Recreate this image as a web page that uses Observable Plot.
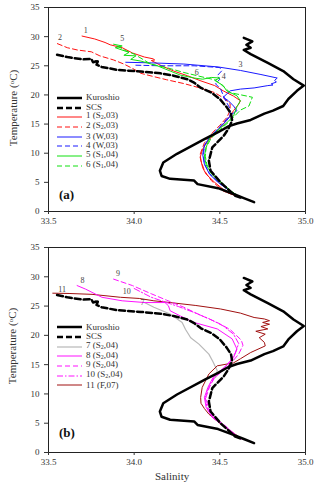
<!DOCTYPE html>
<html>
<head>
<meta charset="utf-8">
<script src="https://cdn.jsdelivr.net/npm/d3@7"></script>
<script src="https://cdn.jsdelivr.net/npm/@observablehq/plot@0.6"></script>
<style>
  html, body { margin: 0; padding: 0; background: #fff; }
  #fig { position: relative; width: 320px; height: 489px; font-family: "Liberation Serif", "DejaVu Serif", serif; color: #333; overflow: hidden; }
  .panel { position: absolute; left: 0; }
  .ytitle { position: absolute; font-size: 11px; white-space: nowrap; transform-origin: center center; }
  .xtitle { position: absolute; font-size: 11px; }
  .tag { position: absolute; font-weight: bold; font-size: 13px; color: #111; }
  .legend { position: absolute; font-size: 9px; line-height: 9.7px; }
  .legend .row { display: flex; align-items: center; height: 9.7px; }
  .legend svg { margin-right: 4px; }
  sub { font-size: 6px; vertical-align: -1px; }
  sup { font-size: 7px; vertical-align: 3px; }
</style>
</head>
<body>
<div id="fig"></div>
<script>
// ---------- data ----------
const xTicks = [33.5, 34.0, 34.5, 35.0];
const yTicks = [0, 5, 10, 15, 20, 25, 30, 35];

const kuroshio = [[34.64,29.8],[34.69,29.2],[34.655,28.6],[34.68,28.1],[34.64,27.7],[34.68,27.0],[34.78,25.5],[34.87,24.1],[34.93,22.7],[34.99,21.6],[34.95,20.7],[34.90,19.3],[34.87,18.1],[34.81,17.3],[34.76,16.8],[34.68,15.7],[34.60,15.1],[34.55,14.6],[34.49,13.6],[34.41,12.4],[34.25,9.9],[34.17,8.4],[34.15,7.0],[34.16,6.1],[34.21,5.6],[34.35,5.3],[34.37,4.7],[34.49,4.0],[34.58,3.0],[34.64,2.3],[34.70,1.6]];
const scs = [[33.55,26.9],[33.61,26.5],[33.70,26.1],[33.75,26.2],[33.76,25.6],[33.79,25.9],[33.78,25.2],[33.81,24.8],[33.90,24.3],[34.04,24.0],[34.155,23.7],[34.23,23.3],[34.31,22.7],[34.35,22.1],[34.39,21.2],[34.45,20.4],[34.50,19.3],[34.54,17.9],[34.565,16.8],[34.572,15.6],[34.55,14.2],[34.523,13.0],[34.456,11.0],[34.436,8.7],[34.446,7.0],[34.504,5.0],[34.59,2.7],[34.62,2.4]];

const st1 = [[33.696,30.1],[33.77,29.6],[33.83,29.0],[33.86,28.6],[33.93,28.1],[33.99,27.2],[34.06,26.5],[34.11,26.2],[34.12,26.0],[34.10,25.9],[34.16,25.0],[34.23,24.1],[34.31,23.3],[34.39,22.4],[34.47,21.6],[34.52,20.7],[34.58,19.8],[34.62,19.0],[34.61,18.4],[34.58,17.3],[34.56,16.4],[34.52,15.0],[34.47,13.3],[34.43,12.1],[34.40,10.7],[34.385,9.3],[34.40,7.5],[34.42,6.4],[34.47,5.0],[34.54,3.3],[34.62,2.4]];
const st2 = [[33.552,28.8],[33.61,28.1],[33.67,27.7],[33.75,27.4],[33.80,26.7],[33.88,26.0],[33.94,25.3],[34.0,24.4],[34.04,23.7],[34.12,23.1],[34.19,22.6],[34.29,21.95],[34.39,21.15],[34.47,20.4],[34.52,19.5],[34.56,18.5],[34.56,17.3],[34.54,16.1],[34.50,14.8],[34.45,13.3],[34.41,11.8],[34.385,9.8],[34.39,8.7],[34.41,7.0],[34.45,5.3],[34.52,3.5],[34.62,2.4]];
const st3 = [[33.951,25.6],[34.10,25.5],[34.29,25.3],[34.49,24.8],[34.62,24.2],[34.74,23.5],[34.835,22.9],[34.82,22.5],[34.83,22.2],[34.80,21.9],[34.81,21.7],[34.78,21.6],[34.70,21.2],[34.62,21.0],[34.56,20.7],[34.52,19.6],[34.55,19.0],[34.58,18.1],[34.60,17.3],[34.57,16.7],[34.54,15.6],[34.49,14.1],[34.44,12.7],[34.41,11.3],[34.40,9.8],[34.41,8.1],[34.44,6.4],[34.49,5.0],[34.56,3.5],[34.62,2.4]];
const st4 = [[34.01,25.1],[34.15,25.0],[34.35,25.0],[34.50,24.7],[34.51,24.1],[34.485,23.3],[34.50,22.7],[34.475,21.9],[34.505,21.0],[34.52,19.9],[34.54,18.7],[34.56,17.6],[34.56,16.6],[34.53,15.5],[34.49,14.2],[34.44,12.8],[34.41,11.3],[34.405,9.8],[34.41,8.2],[34.44,6.5],[34.49,5.0],[34.56,3.5],[34.62,2.4]];
const st5 = [[33.88,28.7],[33.93,28.4],[33.89,28.1],[33.97,27.3],[33.94,26.8],[34.01,26.7],[33.98,26.1],[34.04,25.8],[34.135,25.0],[34.21,24.1],[34.27,23.4],[34.35,22.9],[34.40,22.7],[34.45,23.0],[34.50,22.9],[34.47,22.5],[34.52,21.6],[34.54,20.7],[34.60,19.85],[34.62,19.0],[34.60,18.0],[34.58,16.4],[34.54,15.2],[34.49,14.0],[34.44,12.6],[34.42,11.0],[34.41,9.5],[34.42,8.0],[34.45,6.5],[34.50,5.0],[34.57,3.4],[34.62,2.4]];
const st6 = [[33.90,28.4],[33.95,27.6],[34.00,27.0],[34.096,25.3],[34.20,24.6],[34.29,23.85],[34.41,23.0],[34.47,22.6],[34.50,22.0],[34.56,20.4],[34.69,19.6],[34.67,18.1],[34.62,17.4],[34.59,16.5],[34.55,15.3],[34.50,14.0],[34.45,12.6],[34.42,11.0],[34.415,9.5],[34.425,8.0],[34.455,6.5],[34.51,5.0],[34.57,3.4],[34.62,2.4]];

const st7 = [[34.06,25.6],[34.115,24.8],[34.213,23.6],[34.28,22.2],[34.30,21.0],[34.33,19.6],[34.378,18.5],[34.436,16.8],[34.46,15.5],[34.485,13.95],[34.475,12.8]];
const st8 = [[33.667,28.5],[33.716,27.9],[33.774,27.05],[33.812,26.5],[33.93,25.9],[34.064,25.6],[34.18,25.6],[34.2,25.05],[34.21,24.2],[34.27,23.3],[34.35,22.2],[34.485,21.1],[34.572,19.4],[34.6,17.65],[34.58,16.2],[34.545,15.0],[34.50,13.9],[34.46,12.8],[34.43,11.1],[34.41,9.4],[34.42,7.7],[34.456,6.0],[34.52,4.6],[34.62,2.3]];
const st9 = [[33.88,29.6],[33.99,28.5],[34.10,27.1],[34.19,26.0],[34.29,24.8],[34.39,23.4],[34.485,22.2],[34.56,21.0],[34.625,19.2],[34.635,18.3],[34.61,16.8],[34.57,15.4],[34.52,14.0],[34.47,12.8],[34.44,11.2],[34.42,9.5],[34.43,7.8],[34.46,6.1],[34.53,4.6],[34.62,2.3]];
const st10 = [[34.0,28.0],[34.10,26.5],[34.18,25.7],[34.26,24.9],[34.35,23.9],[34.44,22.8],[34.52,21.6],[34.58,20.2],[34.61,18.6],[34.59,17.0],[34.56,15.6],[34.51,14.0],[34.465,12.8],[34.435,11.1],[34.415,9.4],[34.425,7.7],[34.46,6.0],[34.525,4.6],[34.62,2.3]];
const st11 = [[33.525,27.2],[33.62,27.15],[33.754,27.0],[33.92,26.5],[34.03,26.3],[34.115,25.9],[34.21,25.6],[34.36,25.1],[34.505,24.5],[34.62,23.8],[34.70,23.05],[34.76,22.8],[34.79,22.5],[34.75,22.2],[34.79,21.9],[34.74,21.5],[34.78,21.1],[34.71,20.7],[34.765,20.2],[34.73,19.6],[34.76,18.8],[34.765,18.2],[34.68,17.07],[34.62,16.0],[34.58,15.3],[34.485,14.8],[34.436,13.4],[34.397,11.1],[34.388,9.4],[34.39,8.4],[34.41,7.5],[34.436,6.55],[34.505,4.85],[34.63,2.3]];

const labelsA = [["1",33.717,31.1],["2",33.567,29.85],["3",34.62,25.3],["4",34.523,23.1],["5",33.93,29.7],["6",34.365,23.9]];
const labelsB = [["9",33.906,30.6],["8",33.698,29.4],["10",33.956,27.5],["11",33.58,27.9],["7",34.048,25.7]];

const legendA = [
  ["Kuroshio", "#000", 2.5, null],
  ["SCS", "#000", 2.5, "6,3"],
  ["1 (S<sub>2</sub>,03)", "#ff1010", 1, null],
  ["2 (S<sub>2</sub>,03)", "#ff1010", 1, "5,3"],
  ["3 (W,03)", "#1a1aff", 1, null],
  ["4 (W,03)", "#1a1aff", 1, "5,3"],
  ["5 (S<sub>1</sub>,04)", "#10e010", 1, null],
  ["6 (S<sub>1</sub>,04)", "#10e010", 1, "5,3"]
];
const legendB = [
  ["Kuroshio", "#000", 2.5, null],
  ["SCS", "#000", 2.5, "6,3"],
  ["7 (S<sub>2</sub>,04)", "#b8b8b8", 1.2, null],
  ["8 (S<sub>2</sub>,04)", "#ff10ff", 1, null],
  ["9 (S<sub>2</sub>,04)", "#ff10ff", 1, "5,3"],
  ["10 (S<sub>2</sub>,04)", "#ff10ff", 1, "6,2,1.5,2"],
  ["11 (F,07)", "#a01010", 1, null]
];

// ---------- drawing ----------
const fig = document.getElementById("fig");
const line = (data, stroke, w, dash) =>
  Plot.line(data, {x: d => d[0], y: d => d[1], stroke, strokeWidth: w, strokeDasharray: dash || undefined});

function panel(top, height, marginBottom, series, labels) {
  const chart = Plot.plot({
    width: 320, height,
    marginLeft: 48, marginRight: 15, marginTop: 7, marginBottom,
    x: {domain: [33.5, 35]},
    y: {domain: [0, 35]},
    style: {fontFamily: "'Liberation Serif', serif", fontSize: "9px", color: "#333", background: "transparent", overflow: "visible"},
    marks: [
      ...series,
      line(kuroshio, "#000", 2.5),
      line(scs, "#000", 2.5, "6,3"),
      Plot.text(labels, {x: d => d[1], y: d => d[2], text: d => d[0], fill: "#444", fontSize: 8}),
      Plot.frame({stroke: "#222", strokeWidth: 1}),
      Plot.axisX({ticks: xTicks, tickFormat: d3.format(".1f"), tickSize: 3, tickPadding: 3, label: null}),
      Plot.axisY({ticks: yTicks, tickSize: 4, tickPadding: 5, label: null})
    ]
  });
  const div = document.createElement("div");
  div.className = "panel";
  div.style.top = top + "px";
  div.appendChild(chart);
  fig.appendChild(div);
}

panel(0, 240, 29, [
  line(st2, "#ff1010", 1, "5,3"),
  line(st1, "#ff1010", 1),
  line(st4, "#1a1aff", 1, "5,3"),
  line(st3, "#1a1aff", 1),
  line(st6, "#10e010", 1, "5,3"),
  line(st5, "#10e010", 1)
], labelsA);

panel(240, 249, 37, [
  line(st7, "#b8b8b8", 1.2),
  line(st11, "#a01010", 1),
  line(st8, "#ff10ff", 1),
  line(st9, "#ff10ff", 1, "5,3"),
  line(st10, "#ff10ff", 1, "6,2,1.5,2")
], labelsB);

function legend(items, left, top) {
  const d = document.createElement("div");
  d.className = "legend";
  d.style.left = left + "px";
  d.style.top = top + "px";
  d.innerHTML = items.map(([t, c, w, dash]) =>
    `<div class="row"><svg width="25" height="6"><line x1="0" x2="25" y1="3" y2="3" stroke="${c}" stroke-width="${w}" ${dash ? `stroke-dasharray="${dash}"` : ""}/></svg><span>${t}</span></div>`
  ).join("");
  fig.appendChild(d);
}
legend(legendA, 57, 93);
legend(legendB, 57, 322.5);

function addText(cls, html, css) {
  const d = document.createElement("div");
  d.className = cls;
  d.innerHTML = html;
  Object.assign(d.style, css);
  fig.appendChild(d);
  return d;
}
const yt = "Temperature (<sup>o</sup>C)";
addText("ytitle", yt, {left: "-33px", top: "102px", width: "92px", textAlign: "center", transform: "rotate(-90deg)"});
addText("ytitle", yt, {left: "-34px", top: "340px", width: "92px", textAlign: "center", transform: "rotate(-90deg)"});
addText("xtitle", "Salinity", {left: "155px", top: "470px"});
addText("tag", "(a)", {left: "59px", top: "187px"});
addText("tag", "(b)", {left: "59px", top: "425px"});
</script>
</body>
</html>
